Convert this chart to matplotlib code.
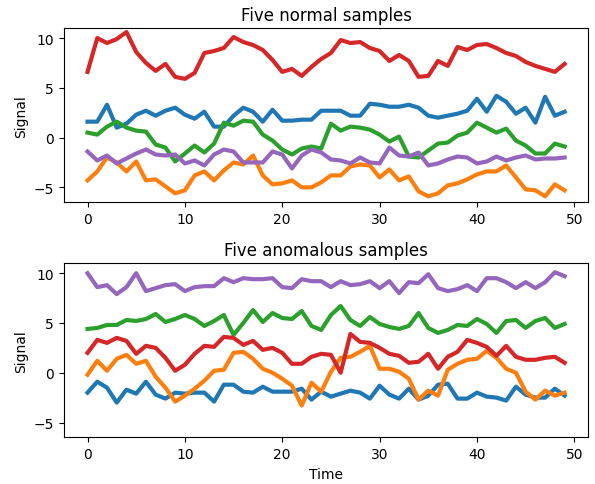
import matplotlib
matplotlib.use('Agg')
import matplotlib.pyplot as plt
import numpy as np

# time axis
time = np.arange(50)

# normal samples
normal_blue = [1.6, 1.6, 3.3, 1.0, 1.4, 2.3, 2.7, 2.2, 2.7, 3.0,
               2.3, 1.9, 2.6, 1.1, 1.1, 2.2, 3.0, 2.6, 1.6, 2.8,
               1.7, 1.7, 1.8, 1.8, 2.7, 2.7, 2.7, 2.2, 2.2, 3.4,
               3.3, 3.1, 3.1, 3.3, 3.0, 2.2, 2.0, 2.2, 2.4, 2.7,
               3.9, 2.6, 4.2, 3.6, 2.4, 3.0, 1.5, 4.1, 2.2, 2.6]
normal_orange = [-4.3, -3.4, -2.0, -2.5, -3.4, -2.4, -4.3, -4.2, -4.9, -5.6,
                 -5.3, -3.8, -3.4, -4.3, -3.3, -2.5, -2.7, -1.8, -3.8, -4.7,
                 -4.6, -4.3, -5.0, -5.0, -4.5, -3.8, -3.8, -2.9, -2.7, -2.8,
                 -4.0, -3.2, -4.3, -3.9, -5.4, -5.9, -5.6, -4.8, -4.6, -4.2,
                 -3.7, -3.4, -3.4, -2.8, -4.0, -5.2, -5.3, -5.9, -4.7, -5.3]
normal_green = [0.5, 0.3, 1.1, 1.6, 1.0, 0.7, 0.6, -0.7, -1.0, -2.4,
                -1.6, -0.8, -1.5, -0.6, 1.5, 1.2, 1.7, 1.6, 0.3, -0.3,
                -1.2, -1.7, -1.1, -0.9, -1.1, 1.4, 0.7, 1.1, 1.0, 0.8,
                0.3, -0.4, 0.1, -1.9, -2.0, -1.3, -0.6, -0.5, 0.2, 0.5,
                1.5, 1.0, 0.5, 0.9, -0.3, -0.8, -1.6, -1.6, -0.6, -0.9]
normal_red = [6.6, 10.0, 9.5, 9.9, 10.6, 8.6, 7.5, 6.7, 7.4, 6.1,
              5.9, 6.5, 8.5, 8.7, 9.0, 10.1, 9.6, 9.3, 8.8, 7.8,
              6.6, 6.9, 6.2, 7.1, 7.9, 8.5, 9.8, 9.5, 9.6, 9.0,
              8.7, 7.7, 8.3, 7.7, 6.1, 6.2, 7.7, 7.2, 9.1, 8.8,
              9.3, 9.4, 9.0, 8.5, 8.2, 7.6, 7.2, 6.9, 6.6, 7.4]
normal_purple = [-1.4, -2.3, -1.8, -2.6, -2.1, -1.6, -1.2, -1.7, -1.8, -1.7,
                 -2.6, -2.3, -2.8, -1.7, -1.2, -1.4, -2.5, -2.5, -2.5, -1.4,
                 -1.7, -3.1, -1.8, -1.2, -1.5, -2.2, -2.3, -2.6, -2.0, -2.5,
                 -2.6, -1.0, -1.8, -1.9, -1.5, -2.8, -2.6, -2.2, -1.9, -2.0,
                 -2.6, -2.4, -1.9, -2.3, -2.0, -1.8, -2.2, -2.1, -2.1, -2.0]

# anomalous samples
anom_blue = [-2.0, -0.9, -1.5, -3.0, -1.7, -2.1, -0.9, -2.2, -2.6, -2.0,
             -2.1, -2.0, -2.0, -2.9, -1.2, -1.2, -1.9, -2.0, -1.4, -1.9,
             -1.9, -1.9, -1.6, -2.7, -1.9, -2.4, -2.1, -1.8, -2.0, -2.6,
             -1.3, -2.2, -2.6, -1.6, -2.7, -2.3, -1.2, -1.1, -2.6, -2.6,
             -2.0, -2.4, -2.5, -2.8, -1.4, -2.2, -2.5, -2.5, -1.6, -2.3]
anom_orange = [-0.2, 1.2, 0.2, 1.4, 1.8, 0.9, 1.2, -0.4, -1.5, -2.9,
               -2.3, -1.6, -0.8, 0.2, 0.3, 2.0, 2.1, 1.4, 0.4, 0.0,
               -0.6, -1.3, -3.3, -1.0, -1.9, 0.1, 1.5, 1.6, 2.1, 2.7,
               0.4, 0.4, 0.1, -0.6, -2.7, -1.8, -2.3, 0.3, 0.9, 1.3,
               1.4, 2.2, 1.5, 0.4, 0.0, -1.9, -2.7, -1.8, -2.3, -2.0]
anom_green = [4.4, 4.5, 4.8, 4.8, 5.3, 5.2, 5.4, 5.9, 5.1, 5.4,
              5.8, 5.4, 4.7, 5.2, 5.8, 3.8, 5.0, 6.3, 5.1, 6.0,
              5.5, 5.4, 6.2, 4.7, 4.3, 5.8, 6.7, 5.3, 4.7, 5.6,
              4.9, 4.6, 4.4, 4.7, 6.0, 4.5, 4.0, 4.3, 4.8, 4.7,
              5.4, 4.9, 4.0, 5.2, 5.3, 4.5, 5.2, 5.5, 4.5, 4.9]
anom_red = [2.0, 3.3, 3.0, 3.5, 3.2, 1.9, 2.7, 2.5, 1.5, 0.2,
            0.8, 1.9, 2.7, 2.6, 3.6, 3.5, 2.8, 3.2, 2.3, 2.5,
            2.0, 0.9, 0.9, 1.6, 1.9, 1.8, 0.0, 3.9, 3.1, 3.0,
            2.5, 1.9, 1.7, 1.0, 1.1, 1.9, 0.4, 1.6, 2.1, 3.3,
            3.0, 2.6, 1.7, 2.7, 1.6, 1.3, 1.3, 1.5, 1.6, 1.0]
anom_purple = [10.0, 8.6, 8.8, 7.9, 8.6, 10.0, 8.2, 8.5, 8.8, 8.9,
               8.2, 8.6, 8.7, 8.7, 9.5, 9.1, 9.5, 9.4, 9.4, 9.5,
               8.6, 8.5, 9.4, 9.2, 9.2, 8.6, 9.2, 8.8, 8.9, 9.2,
               8.5, 9.2, 8.0, 9.1, 9.0, 9.9, 8.5, 8.2, 8.4, 8.8,
               8.2, 9.5, 9.5, 9.1, 8.5, 9.1, 8.5, 9.1, 10.1, 9.7]

normal = [normal_blue, normal_orange, normal_green, normal_red, normal_purple]
anomalous = [anom_blue, anom_orange, anom_green, anom_red, anom_purple]

fig, (ax1, ax2) = plt.subplots(2, 1, figsize=(5.95, 4.85), dpi=100, sharey=True)
fig.subplots_adjust(left=0.107, right=0.989, top=0.94, bottom=0.096, hspace=0.35)

for s in normal:
    ax1.plot(time, s, lw=3)
ax1.set_title('Five normal samples')
ax1.set_ylabel('Signal')

for s in anomalous:
    ax2.plot(time, s, lw=3)
ax2.set_title('Five anomalous samples')
ax2.set_ylabel('Signal')
ax2.set_xlabel('Time')

ax1.set_ylim(-6.5, 11.0)
ax1.set_yticks([-5, 0, 5, 10])

plt.savefig('out.png')
